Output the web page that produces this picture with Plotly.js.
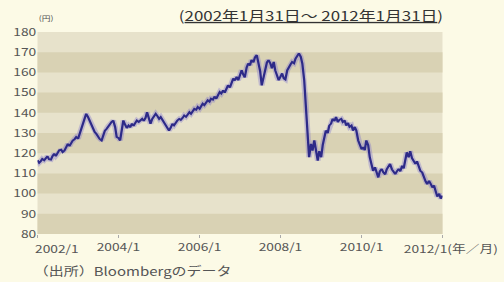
<!DOCTYPE html>
<html>
<head>
<meta charset="utf-8">
<script src="https://cdn.plot.ly/plotly-3.0.1.min.js"></script>
<style>
  html, body { margin: 0; padding: 0; background: #fcfae6; overflow: hidden; }
  #wrap { position: relative; width: 504px; height: 282px; overflow: hidden; background: #fcfae6; }
  #frame { position: absolute; left: 10px; top: -12px; width: 452px; height: 12px;
           border: 2px solid #f1b2aa; border-radius: 6px; }
  #chart { position: absolute; left: 0; top: 0; width: 403px; height: 282px;
           transform: scaleX(1.25); transform-origin: 0 0; }
</style>
</head>
<body>
<div id="wrap">
  <div id="frame"></div>
  <div id="chart"></div>
</div>
<script>
// EUR/JPY (円), semi-monthly readings, 2002/1/31 - 2012/1/31
const dates = [
 '2002-01-31','2002-02-15','2002-03-01','2002-03-15','2002-04-01','2002-04-15','2002-05-01','2002-05-15','2002-06-01','2002-06-15','2002-07-01','2002-07-15','2002-08-01','2002-08-15','2002-09-01','2002-09-15','2002-10-01','2002-10-15','2002-11-01','2002-11-15','2002-12-01','2002-12-15',
 '2003-01-01','2003-01-15','2003-02-01','2003-02-15','2003-03-01','2003-03-15','2003-04-01','2003-04-15','2003-05-01','2003-05-15','2003-06-01','2003-06-15','2003-07-01','2003-07-15','2003-08-01','2003-08-15','2003-09-01','2003-09-15','2003-10-01','2003-10-15','2003-11-01','2003-11-15','2003-12-01','2003-12-15',
 '2004-01-01','2004-01-15','2004-02-01','2004-02-15','2004-03-01','2004-03-15','2004-04-01','2004-04-15','2004-05-01','2004-05-15','2004-06-01','2004-06-15','2004-07-01','2004-07-15','2004-08-01','2004-08-15','2004-09-01','2004-09-15','2004-10-01','2004-10-15','2004-11-01','2004-11-15','2004-12-01','2004-12-15',
 '2005-01-01','2005-01-15','2005-02-01','2005-02-15','2005-03-01','2005-03-15','2005-04-01','2005-04-15','2005-05-01','2005-05-15','2005-06-01','2005-06-15','2005-07-01','2005-07-15','2005-08-01','2005-08-15','2005-09-01','2005-09-15','2005-10-01','2005-10-15','2005-11-01','2005-11-15','2005-12-01','2005-12-15',
 '2006-01-01','2006-01-15','2006-02-01','2006-02-15','2006-03-01','2006-03-15','2006-04-01','2006-04-15','2006-05-01','2006-05-15','2006-06-01','2006-06-15','2006-07-01','2006-07-15','2006-08-01','2006-08-15','2006-09-01','2006-09-15','2006-10-01','2006-10-15','2006-11-01','2006-11-15','2006-12-01','2006-12-15',
 '2007-01-01','2007-01-15','2007-02-01','2007-02-15','2007-03-01','2007-03-15','2007-04-01','2007-04-15','2007-05-01','2007-05-15','2007-06-01','2007-06-15','2007-07-01','2007-07-15','2007-08-01','2007-08-15','2007-09-01','2007-09-15','2007-10-01','2007-10-15','2007-11-01','2007-11-15','2007-12-01','2007-12-15',
 '2008-01-01','2008-01-15','2008-02-01','2008-02-15','2008-03-01','2008-03-15','2008-04-01','2008-04-15','2008-05-01','2008-05-15','2008-06-01','2008-06-15','2008-07-01','2008-07-15','2008-08-01','2008-08-15','2008-09-01','2008-09-15','2008-10-01','2008-10-15','2008-11-01','2008-11-15','2008-12-01','2008-12-15',
 '2009-01-01','2009-01-15','2009-02-01','2009-02-15','2009-03-01','2009-03-15','2009-04-01','2009-04-15','2009-05-01','2009-05-15','2009-06-01','2009-06-15','2009-07-01','2009-07-15','2009-08-01','2009-08-15','2009-09-01','2009-09-15','2009-10-01','2009-10-15','2009-11-01','2009-11-15','2009-12-01','2009-12-15',
 '2010-01-01','2010-01-15','2010-02-01','2010-02-15','2010-03-01','2010-03-15','2010-04-01','2010-04-15','2010-05-01','2010-05-15','2010-06-01','2010-06-15','2010-07-01','2010-07-15','2010-08-01','2010-08-15','2010-09-01','2010-09-15','2010-10-01','2010-10-15','2010-11-01','2010-11-15','2010-12-01','2010-12-15',
 '2011-01-01','2011-01-15','2011-02-01','2011-02-15','2011-03-01','2011-03-15','2011-04-01','2011-04-15','2011-05-01','2011-05-15','2011-06-01','2011-06-15','2011-07-01','2011-07-15','2011-08-01','2011-08-15','2011-09-01','2011-09-15','2011-10-01','2011-10-15','2011-11-01','2011-11-15','2011-12-01','2011-12-15',
 '2012-01-01','2012-01-15','2012-01-31'
];
const rates = [
 116.5,115.2,116.0,117.2,116.5,117.8,118.5,117.0,116.8,118.5,119.8,118.6,120.0,121.5,121.8,120.5,121.3,122.8,124.6,123.5,125.2,126.3,
 127.0,128.0,127.2,129.6,131.0,134.6,137.0,139.5,138.0,136.2,134.5,132.9,130.5,129.6,128.0,127.0,126.3,128.5,131.2,132.0,133.5,134.6,135.5,136.2,
 133.0,128.0,127.5,126.3,131.0,136.2,134.0,132.5,133.7,132.8,134.6,133.5,135.0,136.2,135.5,136.4,137.0,136.0,137.5,140.3,137.0,134.6,137.0,138.5,
 139.5,138.5,137.0,137.9,136.5,135.0,133.7,132.5,131.2,132.5,134.6,133.8,135.5,136.2,137.0,136.5,137.5,138.7,138.0,139.0,140.3,139.5,141.0,142.0,
 141.5,142.9,142.0,143.5,144.5,143.8,145.5,146.2,145.5,147.0,146.5,148.0,147.0,149.0,150.3,149.5,151.1,150.0,152.0,153.6,152.5,155.0,157.0,156.0,
 157.8,156.1,158.5,161.1,159.0,157.5,162.5,164.4,163.5,166.1,165.0,167.5,168.6,165.0,160.5,153.6,158.0,162.7,165.0,166.1,164.4,162.0,165.2,161.0,
 157.8,156.1,158.0,159.5,157.0,156.5,161.0,162.7,164.0,165.2,164.5,166.9,168.5,169.4,167.7,164.4,156.1,145.0,131.0,118.0,124.6,121.3,126.3,121.3,
 116.3,121.0,118.0,124.0,127.0,131.2,130.0,133.7,134.6,137.0,136.0,137.9,135.4,136.5,137.0,135.4,136.2,133.7,135.0,133.0,133.7,131.2,133.0,131.2,
 126.3,124.6,122.0,123.0,121.5,126.3,124.0,118.0,114.0,111.3,113.0,110.0,108.0,111.0,112.2,110.5,109.5,112.0,113.5,114.7,112.0,110.5,109.7,111.0,
 112.2,111.0,113.8,112.5,117.0,120.4,118.0,121.0,117.5,116.3,114.7,116.0,113.0,111.3,110.5,108.0,106.0,104.7,106.3,105.0,103.0,104.0,101.0,98.5,
 100.0,97.5,99.0
];
const tickDates = ['2002-01-31','2004-01-31','2006-01-31','2008-01-31','2010-01-31','2012-01-31'];
const tickLabels = ['', '2004/1', '2006/1', '2008/1', '2010/1', ''];
const firstTickLabel = '2002/1';
const lastTickLabel = '2012/1(年／月)';
const yTicks = [80, 90, 100, 110, 120, 130, 140, 150, 160, 170, 180];
const darkBandStarts = [80, 100, 120, 140, 160];
const subtitle = '(<u>2002年1月31日～ 2012年1月31日</u>)';
const unitLabel = '(円)';
const sourceNote = '（出所）Bloombergのデータ';

const FONT = '"Noto Sans CJK JP", "Noto Sans", sans-serif';

const shapes = darkBandStarts.map(v => ({
  type: 'rect', xref: 'paper', yref: 'y', x0: 0, x1: 1, y0: v, y1: v + 10,
  fillcolor: '#d9d2b4', line: { width: 0 }, layer: 'below'
}));

const traces = [
  { x: dates, y: rates, type: 'scatter', mode: 'lines', hoverinfo: 'skip',
    line: { color: 'rgba(120,110,205,0.35)', width: 4.5 } },
  { x: dates, y: rates, type: 'scatter', mode: 'lines',
    line: { color: '#2d2a88', width: 1.8 } }
];

const layout = {
  width: 403, height: 282,
  margin: { l: 30, r: 49, t: 32, b: 48 },
  paper_bgcolor: '#fcfae6',
  plot_bgcolor: '#e7e2cb',
  showlegend: false,
  font: { family: FONT, size: 11, color: '#555' },
  xaxis: {
    type: 'date', range: ['2002-01-31', '2012-01-31'],
    tickmode: 'array', tickvals: tickDates, ticktext: tickLabels,
    ticks: 'outside', ticklen: 3, tickcolor: '#aaa', tickwidth: 1,
    showgrid: false, zeroline: false, showline: false,
    tickfont: { family: FONT, size: 11, color: '#555' }
  },
  yaxis: {
    range: [80, 180], tickmode: 'array', tickvals: yTicks,
    showgrid: false, zeroline: false, showline: false, ticks: '',
    tickfont: { family: FONT, size: 11, color: '#555' }
  },
  shapes: shapes,
  annotations: [
    { text: subtitle, xref: 'paper', yref: 'paper', x: 1, y: 1, xanchor: 'right', yanchor: 'bottom',
      xshift: 3, yshift: 5, showarrow: false, font: { family: FONT, size: 13.5, color: '#333' } },
    { text: unitLabel, xref: 'paper', yref: 'paper', x: 0, y: 1, xanchor: 'left', yanchor: 'bottom',
      xshift: -1, yshift: 7, showarrow: false, font: { family: FONT, size: 7, color: '#555' } },
    { text: firstTickLabel, xref: 'x', yref: 'paper', x: tickDates[0], y: 0, xanchor: 'left', yanchor: 'top',
      xshift: -4, yshift: -4, showarrow: false, font: { family: FONT, size: 11, color: '#555' } },
    { text: lastTickLabel, xref: 'x', yref: 'paper', x: tickDates[tickDates.length - 1], y: 0, xanchor: 'right', yanchor: 'top',
      xshift: 46, yshift: -4, showarrow: false, font: { family: FONT, size: 11, color: '#555' } },
    { text: sourceNote, xref: 'paper', yref: 'paper', x: 0, y: 0, xanchor: 'left', yanchor: 'top',
      xshift: -5, yshift: -26, showarrow: false, font: { family: FONT, size: 12, color: '#555' } }
  ]
};

Plotly.newPlot('chart', traces, layout, { staticPlot: true, displayModeBar: false });
</script>
</body>
</html>
